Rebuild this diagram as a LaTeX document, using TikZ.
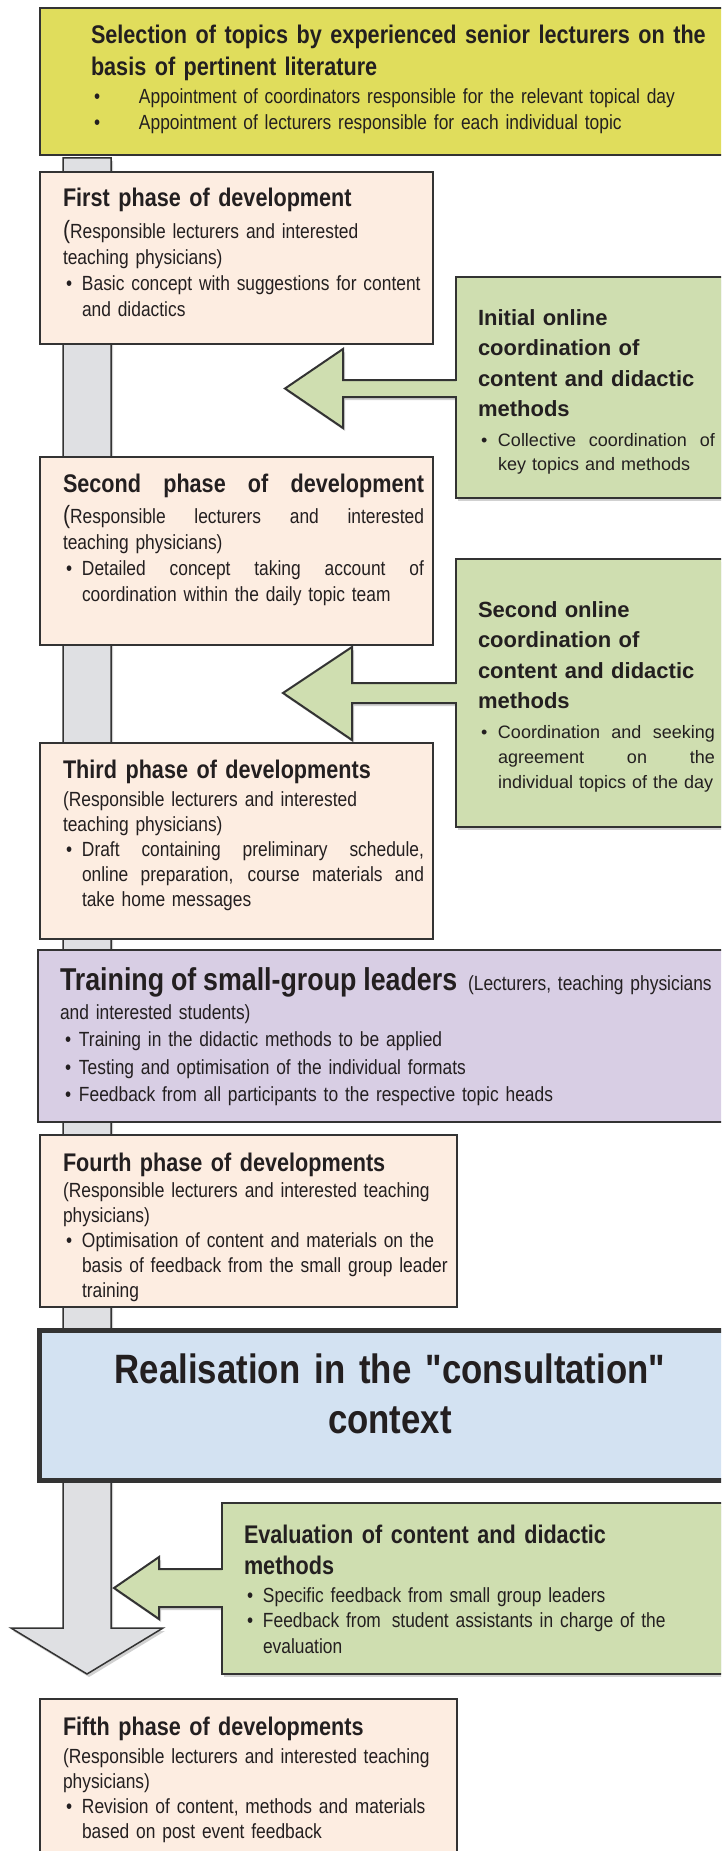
\documentclass[tikz,border=0pt]{standalone}
\usepackage{fontspec}
\setmainfont{Liberation Sans}
\newfontfamily\nar{Liberation Sans}[FakeStretch=0.848]
\usetikzlibrary{shadows,calc}
\definecolor{cyel}{HTML}{E0DD5C}
\definecolor{cpeach}{HTML}{FDEDE1}
\definecolor{cgreen}{HTML}{CFDEB0}
\definecolor{cpurple}{HTML}{D8CEE4}
\definecolor{cblue}{HTML}{D3E2F2}
\definecolor{cbar}{HTML}{DFE0E3}
\definecolor{cbor}{HTML}{333333}
\definecolor{ctext}{HTML}{231F20}
\newcommand{\bulx}[2]{\hspace*{#1}\makebox[#2][l]{\textbullet}}
\newcommand{\indx}[1]{\hspace*{#1}}
\newcommand{\jst}[2]{{\spaceskip=0pt\xspaceskip=0pt\makebox[#1][s]{#2}}}
\tikzset{
  box/.style={draw=cbor, anchor=north west, inner sep=0pt, outer sep=0pt, line width=2pt},
  shad/.style={drop shadow={shadow xshift=2pt, shadow yshift=-3pt, opacity=0.3, fill=black!60}},
  txt/.style={anchor=base west, inner sep=0pt, outer sep=0pt, text width=700pt, text=ctext},
  ttl/.style={font=\nar\bfseries\fontsize{25.5}{32}\selectfont},
  bdy/.style={font=\nar\fontsize{20.5}{25}\selectfont},
  gttl/.style={font=\bfseries\fontsize{22}{30.5}\selectfont},
  gbdy/.style={font=\fontsize{18}{25}\selectfont},
  arrowline/.style={draw=cbor, line width=2pt},
}
\begin{document}
\begin{tikzpicture}[x=1pt,y=-1pt]
\useasboundingbox (0,0) rectangle (721,1851);
\clip (0,0) rectangle (721,1851);
% main grey flow arrow
\coordinate (bartop) at (87,158);
\coordinate (bartip) at (87,1674);
\filldraw[fill=cbar, draw=cbor, line width=1.5pt, shad] (63,158) -- (111,158) -- (111,1628) -- (163,1628) -- (bartip) -- (11,1628) -- (63,1628) -- cycle;
% block arrow fills (with shadow)
\fill[cgreen, shad] (462,380) -- (343,380) -- (343,349) -- (285,388.5) -- (343,428) -- (343,397) -- (462,397) -- cycle;
\fill[cgreen, shad] (462,683) -- (352,683) -- (352,647) -- (283,693) -- (352,740) -- (352,703) -- (462,703) -- cycle;
\fill[cgreen, shad] (228,1569) -- (159,1569) -- (159,1557) -- (114,1588) -- (159,1619) -- (159,1607) -- (228,1607) -- cycle;
% boxes
\node[box, fill=cyel, line width=2.5pt, minimum width=720pt, minimum height=147pt] (sel) at (40,8) {};
\node[box, fill=cpeach, minimum width=393pt, minimum height=172pt] (p1) at (40,172) {};
\node[box, fill=cgreen, shad, minimum width=300pt, minimum height=221pt] (g1) at (456,277) {};
\node[box, fill=cpeach, minimum width=393pt, minimum height=188pt] (p2) at (40,457) {};
\node[box, fill=cgreen, shad, minimum width=300pt, minimum height=268pt] (g2) at (456,559) {};
\node[box, fill=cpeach, minimum width=393pt, minimum height=196pt] (p3) at (40,743) {};
\node[box, fill=cpurple, line width=2.5pt, minimum width=720pt, minimum height=172pt] (tr) at (38,950) {};
\node[box, fill=cpeach, minimum width=417pt, minimum height=172pt] (p4) at (40,1135) {};
\node[box, fill=cblue, line width=5pt, minimum width=720pt, minimum height=150pt] (real) at (39,1330) {};
\node[box, fill=cgreen, shad, minimum width=540pt, minimum height=171pt] (ev) at (222,1503) {};
\node[box, fill=cpeach, minimum width=417pt, minimum height=220pt] (p5) at (40,1699) {};
% patches joining arrow shafts to their boxes
\fill[cgreen] ($(g1.north west)+(-3,104)$) rectangle ($(g1.north west)+(4,119)$);
\fill[cgreen] ($(g2.north west)+(-3,125)$) rectangle ($(g2.north west)+(4,143)$);
\fill[cgreen] ($(ev.north west)+(-3,67)$) rectangle ($(ev.north west)+(4,103)$);
% block arrow outlines
\draw[arrowline] ($(g1.north west)+(0,103)$) -- (343,380) -- (343,349) -- (285,388.5) -- (343,428) -- (343,397) -- ($(g1.north west)+(0,120)$);
\draw[arrowline] ($(g2.north west)+(0,124)$) -- (352,683) -- (352,647) -- (283,693) -- (352,740) -- (352,703) -- ($(g2.north west)+(0,144)$);
\draw[arrowline] ($(ev.north west)+(0,66)$) -- (159,1569) -- (159,1557) -- (114,1588) -- (159,1619) -- (159,1607) -- ($(ev.north west)+(0,104)$);
% texts: selection
\node[txt, ttl] (selt) at (91,44) {Selection of topics by experienced senior lecturers on the\\basis of pertinent literature};
\node[txt, bdy, font=\nar\fontsize{20.5}{26}\selectfont] (selb) at (94,104) {\bulx{0pt}{45pt}Appointment of coordinators responsible for the relevant topical day\\\bulx{0pt}{45pt}Appointment of lecturers responsible for each individual topic};
% first phase
\node[txt, ttl] (p1t) at (63,207) {First phase of development};
\node[txt, bdy, font=\nar\fontsize{20.5}{26}\selectfont] (p1b) at (63,239) {{\fontsize{25}{25}\selectfont(}Responsible lecturers and interested\\teaching physicians)\\\bulx{3pt}{16pt}Basic concept with suggestions for content\\\indx{19pt}and didactics};
% initial online coordination
\node[txt, gttl] (g1t) at (478,325) {Initial online\\coordination of\\content and didactic\\methods};
\node[txt, gbdy, font=\fontsize{18}{24}\selectfont] (g1b) at (478,446) {\bulx{3pt}{17pt}\jst{217pt}{Collective coordination of}\\\indx{20pt}key topics and methods};
% second phase
\node[txt, ttl] (p2t) at (63,492) {\jst{361pt}{Second phase of development}};
\node[txt, bdy, font=\nar\fontsize{20.5}{26}\selectfont] (p2b) at (63,523) {\jst{361pt}{{\fontsize{25}{25}\selectfont(}Responsible lecturers and interested}\\teaching physicians)\\\bulx{3pt}{16pt}\jst{342pt}{Detailed concept taking account of}\\\indx{19pt}coordination within the daily topic team};
% second online coordination
\node[txt, gttl] (g2t) at (478,617) {Second online\\coordination of\\content and didactic\\methods};
\node[txt, gbdy] (g2b) at (478,738) {\bulx{3pt}{17pt}\jst{217pt}{Coordination and seeking}\\\indx{20pt}\jst{217pt}{agreement on the}\\\indx{20pt}individual topics of the day};
% third phase
\node[txt, ttl] (p3t) at (63,778) {Third phase of developments};
\node[txt, bdy] (p3b) at (63,806) {(Responsible lecturers and interested\\teaching physicians)\\\bulx{3pt}{16pt}\jst{342pt}{Draft containing preliminary schedule,}\\\indx{19pt}\jst{342pt}{online preparation, course materials and}\\\indx{19pt}take home messages};
% training
\node[txt, bdy] (trt) at (60,990) {{\nar\bfseries\fontsize{31.6}{32}\selectfont Training of small-group leaders}\hspace{4pt} (Lecturers, teaching physicians};
\node[txt, bdy, font=\nar\fontsize{20.5}{27.5}\selectfont] (trb) at (60,1019) {and interested students)\\\bulx{5pt}{14pt}Training in the didactic methods to be applied\\\bulx{5pt}{14pt}Testing and optimisation of the individual formats\\\bulx{5pt}{14pt}Feedback from all participants to the respective topic heads};
% fourth phase
\node[txt, ttl] (p4t) at (63,1171) {Fourth phase of developments};
\node[txt, bdy] (p4b) at (63,1197) {(Responsible lecturers and interested teaching\\physicians)\\\bulx{3pt}{16pt}Optimisation of content and materials on the\\\indx{19pt}basis of feedback from the small group leader\\\indx{19pt}training};
% realisation
\node[anchor=base, inner sep=0pt, text width=700pt, align=center, text=ctext, font=\nar\bfseries\fontsize{41}{50}\selectfont] (realt) at (390,1383) {\spaceskip=0pt\xspaceskip=0pt Realisation in the "consultation"\\context};
% evaluation
\node[txt, ttl, font=\nar\bfseries\fontsize{25.5}{31}\selectfont] (evt) at (244,1543) {Evaluation of content and didactic\\methods};
\node[txt, bdy, font=\nar\fontsize{20.5}{25.5}\selectfont] (evb) at (244,1602) {\bulx{3pt}{16pt}Specific feedback from small group leaders\\\bulx{3pt}{16pt}Feedback from\hspace{4pt} student assistants in charge of the\\\indx{19pt}evaluation};
% fifth phase
\node[txt, ttl] (p5t) at (63,1735) {Fifth phase of developments};
\node[txt, bdy] (p5b) at (63,1763) {(Responsible lecturers and interested teaching\\physicians)\\\bulx{3pt}{16pt}Revision of content, methods and materials\\\indx{19pt}based on post event feedback};
\end{tikzpicture}
\end{document}
